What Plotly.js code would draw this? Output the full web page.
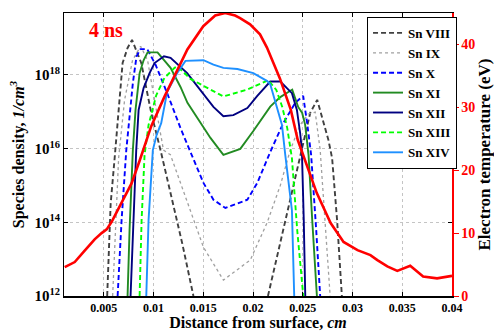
<!DOCTYPE html>
<html><head><meta charset="utf-8">
<script src="https://cdn.plot.ly/plotly-3.0.1.min.js"></script>
<style>body{margin:0;background:#fff}#chart{width:494px;height:331px}</style>
</head><body><div id="chart"></div>
<script>
// Series data (distance in cm, density in 1/cm^3, temperature in eV)
const seriesNames = ['Sn VIII','Sn IX','Sn X','Sn XI','Sn XII','Sn XIII','Sn XIV'];

const sn8X = [0.00534,0.00569,0.00609,0.00649,0.00689,0.00739,0.00784,0.00877,0.00977,0.01077,0.01171,0.01291,0.01401,null,
              0.0215,0.02324,0.02491,0.02575,0.02645,0.02705,0.02758,0.02795,0.02845,0.02893];
const sn8Y = [1e12,3.2e14,5.5e15,9.3e16,2.1e18,5.4e18,8.9e18,2.1e18,9.3e16,7.6e15,6.3e14,2.5e13,1e12,null,
              1e12,1e14,9.1e15,9.3e16,2.1e17,6.0e16,1.7e16,5.5e15,1.15e14,1e12];

const sn9X = [0.00589,0.00649,0.00709,0.00789,0.0087,0.0094,0.0101,0.011,0.0117,0.01502,0.01702,0.01973,0.02143,0.02274,0.02374,0.02474,0.02555,0.02625,0.02675,0.02725,0.02775];
const sn9Y = [1e12,5.5e15,2.1e17,2.5e18,6.0e18,2.5e18,2.1e17,9.1e15,6.8e15,2.1e13,2.7e12,9.5e12,1e14,1e15,9.1e15,4.4e16,8.7e16,9.8e16,9.1e15,1.15e14,1e12];

const sn10X = [0.00639,0.00679,0.00726,0.00759,0.00792,0.00829,0.00869,0.00937,0.0102,0.01137,0.01271,0.01371,0.01502,0.01602,0.01722,0.01943,0.02043,0.02173,0.02304,0.02424,0.02504,0.02544,0.02584,0.02635,0.02675];
const sn10Y = [1e12,1.15e14,9.1e15,8.1e16,6.0e17,3.2e18,5.0e18,5.0e18,1.9e18,3.2e17,3.6e16,8.1e15,1.17e15,4.1e14,2.45e14,4.1e14,1.17e15,8.1e15,4.9e16,1.74e17,2.7e17,4.9e16,6.8e15,6.2e13,1e12];

const sn11X = [0.00739,0.00759,0.00792,0.00819,0.0086,0.009,0.0094,0.0104,0.01171,0.01271,0.01341,0.01471,0.01572,0.01702,0.01872,0.02003,0.02173,0.02274,0.02394,0.02454,0.02494,0.02524,0.02558,0.02595,0.02642];
const sn11Y = [1e12,6.2e13,9.1e15,1.12e17,1.12e18,2.5e18,4.1e18,4.1e18,1.55e18,4.7e17,1.74e17,4.9e16,1.95e16,6.8e15,9.8e15,3.0e16,1.38e17,2.5e17,4.0e17,1.35e17,9.3e16,4.4e16,6.8e15,1.15e14,1e12];

const sn12X = [0.00769,0.00799,0.00826,0.0085,0.009,0.0096,0.0101,0.01105,0.01171,0.01338,0.01471,0.01602,0.01702,0.01802,0.01943,0.02043,0.02173,0.02274,0.02391,0.02441,0.02474,0.02491,0.0251,0.02525];
const sn12Y = [1e12,1.15e14,9.1e15,1.12e17,4.4e17,1.12e18,2.1e18,3.2e18,2.9e18,1.12e18,3.9e17,1.35e17,7.6e16,8.1e16,1.26e17,2.7e17,6.6e17,6.6e17,3.2e17,1.12e17,2.6e16,9.1e15,1.15e14,1e12];

const sn13X = [0.0086,0.0088,0.0091,0.0095,0.01027,0.0111,0.01211,0.01241,0.01371,0.01502,0.01702,0.01943,0.02153,0.02234,0.02294,0.02344,0.02391,0.02444,0.02505];
const sn13Y = [1e12,1.15e14,6.8e15,4.4e16,2.8e17,8.3e17,1.55e18,1.7e18,7.8e17,5.0e17,2.6e17,4.0e17,7.2e17,3.9e17,1.35e17,3.6e16,5.5e15,6.2e13,1e12];

const sn14X = [0.00927,0.0095,0.00993,0.0103,0.01077,0.01137,0.01238,0.01321,0.01502,0.01602,0.01702,0.01843,0.02003,0.02143,0.02173,0.02224,0.02291,0.02324,0.02391,0.02414];
const sn14Y = [1e12,1.15e14,9.1e15,2.3e16,4.9e16,3.5e17,1.12e18,2.4e18,2.5e18,1.9e18,1.55e18,1.45e18,1.12e18,6.8e17,5.6e17,1.74e17,4.4e16,6.8e15,2.1e14,1e12];

const tempX = [0.00107,0.00208,0.00308,0.00408,0.00478,0.00529,0.00579,0.00639,0.00709,0.00779,0.0086,0.00977,0.0111,0.0121,0.0134,0.015,0.0162,0.0172,0.0182,0.0187,0.0197,0.0207,0.0214,0.0227,0.0238,0.0245,0.0255,0.0264,0.0278,0.0291,0.0305,0.0318,0.0325,0.0335,0.0345,0.0358,0.0371,0.0385,0.04];
const tempY = [4.6,5.4,7.2,9.0,10.0,10.6,11.8,13.7,15.8,17.9,21.5,27,31.7,34.9,39.2,42.9,44.6,45,44.6,44.2,43.2,41.6,39.5,34.6,29.6,24.8,20.5,16.4,11.6,8.6,7.3,6.5,5.7,4.7,4.0,4.8,3.1,2.8,3.2];

const xTickVals = [0.005,0.01,0.015,0.02,0.025,0.03,0.035,0.04];
const y2TickVals = [0,10,20,30,40];

const colors = ['#404040','#a0a0a0','#0000ff','#228b22','#000080','#00ff00','#1e90ff'];
const dashes = ['5px,3px','dot','5px,3px','solid','solid','5px,3px','solid'];
const xs = [sn8X,sn9X,sn10X,sn11X,sn12X,sn13X,sn14X];
const ys = [sn8Y,sn9Y,sn10Y,sn11Y,sn12Y,sn13Y,sn14Y];

const traces = seriesNames.map((n,i)=>({
  x: xs[i], y: ys[i], name: n, type:'scatter', mode:'lines',
  line:{color:colors[i], dash:dashes[i], width: i===1?1.3:1.9},
  connectgaps:false
}));
traces.push({x:tempX, y:tempY, name:'Te', yaxis:'y2', type:'scatter', mode:'lines',
  line:{color:'#ff0000', width:2.6}, showlegend:false});

const serif = 'Liberation Serif, Times New Roman, serif';
const layout = {
  width:494, height:331,
  margin:{l:64, r:42, t:13, b:35},
  paper_bgcolor:'#fff', plot_bgcolor:'#fff',
  font:{family:serif, size:12, color:'#000', weight:'bold'},
  showlegend:true,
  legend:{x:0.781, y:0.986, xanchor:'left', yanchor:'top', bgcolor:'#fff',
    bordercolor:'#000', borderwidth:1, font:{family:serif, size:13, weight:'bold'},
    itemwidth:30, tracegroupgap:0},
  xaxis:{range:[0.001,0.04], tickvals:xTickVals, ticktext:xTickVals.map(String),
    showgrid:true, gridcolor:'#c4c4c4', griddash:'dot', gridwidth:1,
    ticks:'inside', ticklen:4, tickcolor:'#000', showline:true, linecolor:'#000', linewidth:1.5,
    mirror:'ticks', zeroline:false,
    tickfont:{family:serif, size:12, weight:'bold'},
    title:{text:'Distance from surface, <i>cm</i>', font:{family:serif, size:16, weight:'bold'}, standoff:1}},
  yaxis:{type:'log', range:[12,19.68], dtick:2, exponentformat:'power',
    showgrid:true, gridcolor:'#c4c4c4', griddash:'dot', gridwidth:1,
    ticks:'inside', ticklen:4, tickcolor:'#000', showline:true, linecolor:'#000', linewidth:1.5,
    mirror:'ticks', zeroline:false,
    tickfont:{family:serif, size:12, weight:'bold'},
    title:{text:'Species density, <i>1/cm<sup>3</sup></i>', font:{family:serif, size:16, weight:'bold'}, standoff:6}},
  yaxis2:{overlaying:'y', side:'right', range:[0,45], tickvals:y2TickVals,
    showgrid:false, zeroline:false, ticks:'outside', ticklen:5, tickcolor:'#ff0000',
    showline:true, linecolor:'#ff0000', linewidth:1.5,
    tickfont:{family:serif, size:14, color:'#ff0000', weight:'bold'},
    title:{text:'Electron temperature (eV)', font:{family:serif, size:17, weight:'bold', color:'#000'}, standoff:8}},
  annotations:[{text:'4 ns', xref:'paper', yref:'paper', x:0.108, y:0.94, xanchor:'center', yanchor:'middle', showarrow:false,
    font:{family:serif, size:20, color:'#ff0000', weight:'bold'}}]
};
Plotly.newPlot('chart', traces, layout, {displayModeBar:false, staticPlot:true});
</script></body></html>
